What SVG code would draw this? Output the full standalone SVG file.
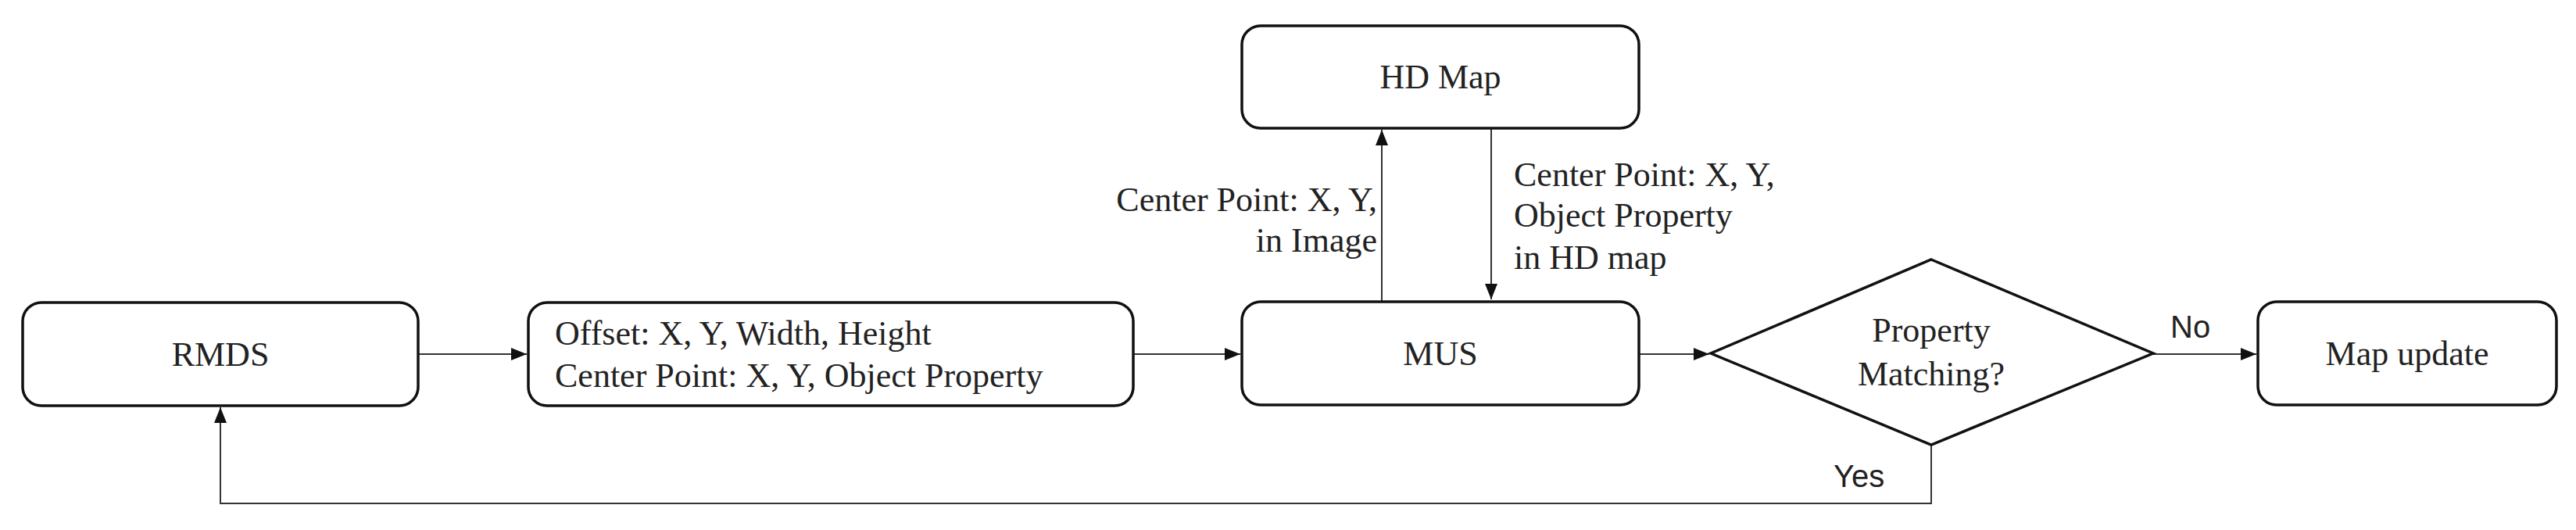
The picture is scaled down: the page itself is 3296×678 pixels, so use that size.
<svg xmlns="http://www.w3.org/2000/svg" width="3296" height="678" viewBox="0 0 3296 678">
<style>
.box{fill:#fff;stroke:#111;stroke-width:3.5}
.t{font-family:"Liberation Serif",serif;font-size:44px;fill:#222}
.s{font-family:"Liberation Sans",sans-serif;font-size:40px;fill:#222}
.c{fill:none;stroke:#333;stroke-width:2}
</style>
<defs>
<marker id="b" viewBox="0 0 20 16" refX="20" refY="8" markerWidth="20" markerHeight="16" markerUnits="userSpaceOnUse" orient="auto"><path d="M0,0L20,8L0,16z" fill="#111"/></marker></defs>
<g id="connectors">
<line class="c" x1="535" y1="453" x2="674" y2="453" marker-end="url(#b)"/>
<line class="c" x1="1450" y1="453" x2="1587" y2="453" marker-end="url(#b)"/>
<line class="c" x1="1768" y1="385" x2="1768" y2="166" marker-end="url(#b)"/>
<line class="c" x1="1908" y1="164" x2="1908" y2="383" marker-end="url(#b)"/>
<line class="c" x1="2097" y1="453" x2="2187" y2="453" marker-end="url(#b)"/>
<line class="c" x1="2755" y1="453" x2="2887" y2="453" marker-end="url(#b)"/>
<polyline class="c" points="2471,569 2471,644 282,644 282,521" marker-end="url(#b)"/>
<text class="t" x="1762" y="270" text-anchor="end">Center Point: X, Y,</text>
<text class="t" x="1762" y="322" text-anchor="end">in Image</text>
<text class="t" x="1937" y="238">Center Point: X, Y,</text>
<text class="t" x="1937" y="290">Object Property</text>
<text class="t" x="1937" y="344">in HD map</text>
<text class="s" x="2777" y="432">No</text>
<text class="s" x="2346" y="623">Yes</text>
</g>
<g id="rmds"><rect class="box" x="29" y="387" width="506" height="132" rx="24"/><text class="t" x="282" y="468" text-anchor="middle">RMDS</text></g>
<g id="offset"><rect class="box" x="676" y="387" width="774" height="132" rx="24"/><text class="t" x="710" y="441">Offset: X, Y, Width, Height</text><text class="t" x="710" y="495">Center Point: X, Y, Object Property</text></g>
<g id="hdmap"><rect class="box" x="1589" y="33" width="508" height="131" rx="24"/><text class="t" x="1843" y="113" text-anchor="middle">HD Map</text></g>
<g id="mus"><rect class="box" x="1589" y="386" width="508" height="132" rx="24"/><text class="t" x="1843" y="467" text-anchor="middle">MUS</text></g>
<g id="decision"><polygon class="box" points="2471,332 2755,452 2471,569 2189,452"/><text class="t" x="2471" y="437" text-anchor="middle">Property</text><text class="t" x="2471" y="493" text-anchor="middle">Matching?</text></g>
<g id="mapupdate"><rect class="box" x="2889" y="386" width="382" height="132" rx="24"/><text class="t" x="3080" y="467" text-anchor="middle">Map update</text></g>
</svg>
